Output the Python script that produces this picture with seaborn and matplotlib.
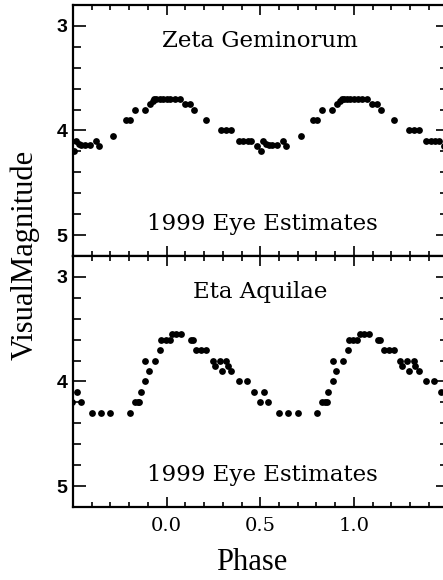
import numpy as np
import pandas as pd
import matplotlib
matplotlib.use('Agg')
import matplotlib.pyplot as plt
from matplotlib.ticker import MultipleLocator
import seaborn as sns

# One cycle of 1999 eye estimates (phase in [0,1), visual magnitude)
zeta_phase = [0.000, 0.020, 0.045, 0.070, 0.096, 0.123, 0.146, 0.212, 0.292, 0.319,
              0.346, 0.385, 0.410, 0.435, 0.452, 0.480, 0.503, 0.515, 0.530, 0.545,
              0.565, 0.590, 0.622, 0.640, 0.715, 0.781, 0.802, 0.832, 0.884, 0.912,
              0.925, 0.935, 0.945, 0.963, 0.980]
zeta_mag = [3.70, 3.70, 3.70, 3.70, 3.75, 3.75, 3.80, 3.90, 4.00, 4.00,
            4.00, 4.10, 4.10, 4.10, 4.10, 4.15, 4.20, 4.10, 4.13, 4.14,
            4.14, 4.14, 4.10, 4.15, 4.05, 3.90, 3.90, 3.80, 3.80, 3.75,
            3.72, 3.70, 3.70, 3.70, 3.70]

eta_phase = [0.016, 0.030, 0.052, 0.079, 0.128, 0.141, 0.159, 0.185, 0.212, 0.248,
             0.257, 0.283, 0.296, 0.319, 0.328, 0.346, 0.385, 0.428, 0.465, 0.497,
             0.522, 0.543, 0.601, 0.650, 0.700, 0.802, 0.829, 0.845, 0.855, 0.861,
             0.887, 0.886, 0.906, 0.940, 0.967, 0.972, 0.995]
eta_mag = [3.60, 3.55, 3.55, 3.55, 3.60, 3.60, 3.70, 3.70, 3.70, 3.80,
           3.85, 3.80, 3.90, 3.80, 3.85, 3.90, 4.00, 4.00, 4.10, 4.20,
           4.10, 4.20, 4.30, 4.30, 4.30, 4.30, 4.20, 4.20, 4.20, 4.10,
           4.00, 3.80, 3.90, 3.80, 3.70, 3.60, 3.60]

star_names = ['Zeta Geminorum', 'Eta Aquilae']
subtitle = '1999 Eye Estimates'
xtick_vals = [0.0, 0.5, 1.0]
xtick_labels = ['0.0', '0.5', '1.0']
ytick_vals = [3, 4, 5]
ytick_labels = ['3', '4', '5']


def fold(phase, mag):
    # repeat the cycle so the plot covers phase -0.5 .. 1.5
    p = np.asarray(phase)
    m = np.asarray(mag)
    return pd.DataFrame({'Phase': np.concatenate([p - 1, p, p + 1]),
                         'Mag': np.tile(m, 3)})


sns.set_theme(style='ticks')
plt.rcParams['font.family'] = ['DejaVu Serif']
plt.rcParams['axes.linewidth'] = 1.6
plt.rcParams['text.color'] = 'black'
plt.rcParams['xtick.color'] = 'black'
plt.rcParams['ytick.color'] = 'black'
plt.rcParams['axes.edgecolor'] = 'black'

fig = plt.figure(figsize=(4.43, 5.8), dpi=100)
ax_top = fig.add_axes([0.1648, 0.5586, 0.8454, 0.4328])
ax_bot = fig.add_axes([0.1648, 0.1259, 0.8454, 0.4328])

data = [fold(zeta_phase, zeta_mag), fold(eta_phase, eta_mag)]

for ax, df, name in zip([ax_top, ax_bot], data, star_names):
    sns.scatterplot(data=df, x='Phase', y='Mag', ax=ax, color='black',
                    s=24, linewidth=0, legend=False)
    ax.set_xlim(-0.5, 1.5)
    ax.set_ylim(5.2, 2.8)
    ax.set_xlabel('')
    ax.set_ylabel('')
    ax.set_xticks(xtick_vals)
    ax.set_xticklabels(xtick_labels)
    ax.set_yticks(ytick_vals)
    ax.set_yticklabels(ytick_labels, fontfamily='Liberation Sans',
                       fontweight='bold', fontsize=14)
    ax.xaxis.set_minor_locator(MultipleLocator(0.1))
    ax.yaxis.set_minor_locator(MultipleLocator(0.2))
    ax.tick_params(axis='both', which='both', direction='in', top=True,
                   right=True, width=1.2, color='black', labelcolor='black')
    ax.tick_params(axis='x', which='major', length=7, labelsize=14, pad=7)
    ax.tick_params(axis='x', which='minor', length=3.6)
    ax.tick_params(axis='y', which='major', length=9, pad=4)
    ax.tick_params(axis='y', which='minor', length=6)
    for sp in ax.spines.values():
        sp.set_visible(True)
        sp.set_color('black')
    ax.text(0.5, 3.14, name, ha='center', va='center', fontsize=16.5)
    ax.text(0.51, 4.895, subtitle, ha='center', va='center', fontsize=16.5)

ax_top.tick_params(axis='x', labelbottom=False)

fig.text(252 / 443, 1 - 563 / 580, 'Phase', ha='center', va='center',
         fontsize=22, family='Liberation Serif')
fig.text(25 / 443, 1 - 255 / 580, 'VisualMagnitude', ha='center', va='center',
         rotation=90, fontsize=22, family='Liberation Serif')

plt.savefig('out.png', dpi=100)
